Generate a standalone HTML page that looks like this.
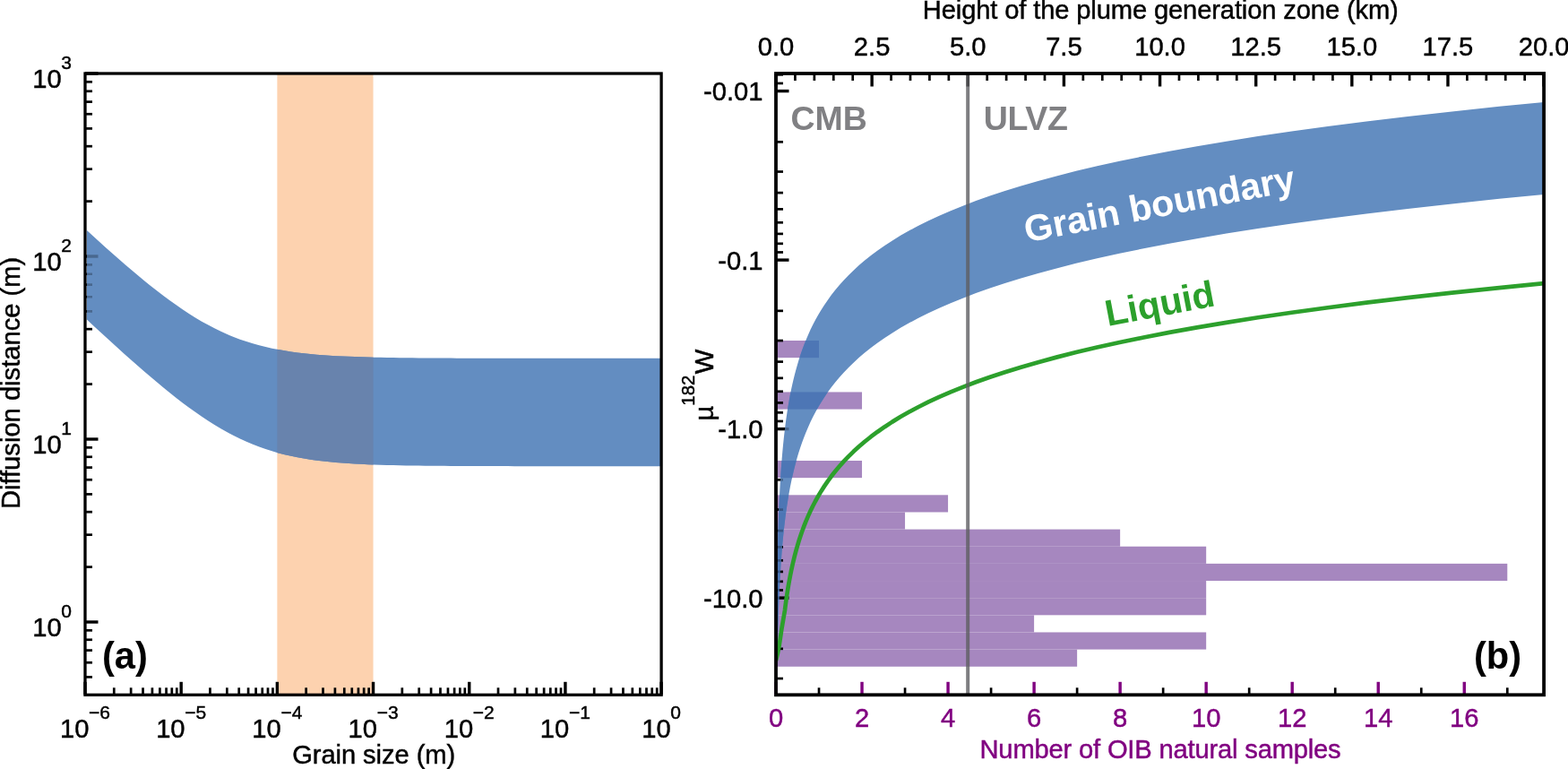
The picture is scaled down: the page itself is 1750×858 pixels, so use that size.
<!DOCTYPE html>
<html lang="en"><head><meta charset="utf-8"><title>Figure</title>
<style>html,body{margin:0;padding:0;background:#fff}body{width:1750px;height:858px;overflow:hidden}svg{display:block}</style>
</head><body>
<svg width="1750" height="858" viewBox="0 0 1750 858" font-family="'Liberation Sans', sans-serif" fill="#000">
<rect width="1750" height="858" fill="#fff"/>
<g id="panel-a">
<rect x="309.37" y="82.0" width="107.18" height="693.3" fill="#fdd2af"/>
<g stroke="#000" stroke-width="3.4">
<line x1="95" y1="775.3" x2="95" y2="760.8"/>
<line x1="202.18" y1="775.3" x2="202.18" y2="760.8"/>
<line x1="309.37" y1="775.3" x2="309.37" y2="760.8"/>
<line x1="416.55" y1="775.3" x2="416.55" y2="760.8"/>
<line x1="523.73" y1="775.3" x2="523.73" y2="760.8"/>
<line x1="630.92" y1="775.3" x2="630.92" y2="760.8"/>
<line x1="738.1" y1="775.3" x2="738.1" y2="760.8"/>
<line x1="95.0" y1="694" x2="109.5" y2="694"/>
<line x1="95.0" y1="490" x2="109.5" y2="490"/>
<line x1="95.0" y1="286" x2="109.5" y2="286"/>
<line x1="95.0" y1="82" x2="109.5" y2="82"/>
</g>
<g stroke="#000" stroke-width="2.7">
<line x1="127.27" y1="775.3" x2="127.27" y2="767.3"/>
<line x1="146.14" y1="775.3" x2="146.14" y2="767.3"/>
<line x1="159.53" y1="775.3" x2="159.53" y2="767.3"/>
<line x1="169.92" y1="775.3" x2="169.92" y2="767.3"/>
<line x1="178.4" y1="775.3" x2="178.4" y2="767.3"/>
<line x1="185.58" y1="775.3" x2="185.58" y2="767.3"/>
<line x1="191.8" y1="775.3" x2="191.8" y2="767.3"/>
<line x1="197.28" y1="775.3" x2="197.28" y2="767.3"/>
<line x1="234.45" y1="775.3" x2="234.45" y2="767.3"/>
<line x1="253.32" y1="775.3" x2="253.32" y2="767.3"/>
<line x1="266.71" y1="775.3" x2="266.71" y2="767.3"/>
<line x1="277.1" y1="775.3" x2="277.1" y2="767.3"/>
<line x1="285.59" y1="775.3" x2="285.59" y2="767.3"/>
<line x1="292.76" y1="775.3" x2="292.76" y2="767.3"/>
<line x1="298.98" y1="775.3" x2="298.98" y2="767.3"/>
<line x1="304.46" y1="775.3" x2="304.46" y2="767.3"/>
<line x1="341.63" y1="775.3" x2="341.63" y2="767.3"/>
<line x1="360.51" y1="775.3" x2="360.51" y2="767.3"/>
<line x1="373.9" y1="775.3" x2="373.9" y2="767.3"/>
<line x1="384.28" y1="775.3" x2="384.28" y2="767.3"/>
<line x1="392.77" y1="775.3" x2="392.77" y2="767.3"/>
<line x1="399.95" y1="775.3" x2="399.95" y2="767.3"/>
<line x1="406.16" y1="775.3" x2="406.16" y2="767.3"/>
<line x1="411.65" y1="775.3" x2="411.65" y2="767.3"/>
<line x1="448.82" y1="775.3" x2="448.82" y2="767.3"/>
<line x1="467.69" y1="775.3" x2="467.69" y2="767.3"/>
<line x1="481.08" y1="775.3" x2="481.08" y2="767.3"/>
<line x1="491.47" y1="775.3" x2="491.47" y2="767.3"/>
<line x1="499.95" y1="775.3" x2="499.95" y2="767.3"/>
<line x1="507.13" y1="775.3" x2="507.13" y2="767.3"/>
<line x1="513.35" y1="775.3" x2="513.35" y2="767.3"/>
<line x1="518.83" y1="775.3" x2="518.83" y2="767.3"/>
<line x1="556" y1="775.3" x2="556" y2="767.3"/>
<line x1="574.87" y1="775.3" x2="574.87" y2="767.3"/>
<line x1="588.26" y1="775.3" x2="588.26" y2="767.3"/>
<line x1="598.65" y1="775.3" x2="598.65" y2="767.3"/>
<line x1="607.14" y1="775.3" x2="607.14" y2="767.3"/>
<line x1="614.31" y1="775.3" x2="614.31" y2="767.3"/>
<line x1="620.53" y1="775.3" x2="620.53" y2="767.3"/>
<line x1="626.01" y1="775.3" x2="626.01" y2="767.3"/>
<line x1="663.18" y1="775.3" x2="663.18" y2="767.3"/>
<line x1="682.06" y1="775.3" x2="682.06" y2="767.3"/>
<line x1="695.45" y1="775.3" x2="695.45" y2="767.3"/>
<line x1="705.83" y1="775.3" x2="705.83" y2="767.3"/>
<line x1="714.32" y1="775.3" x2="714.32" y2="767.3"/>
<line x1="721.5" y1="775.3" x2="721.5" y2="767.3"/>
<line x1="727.71" y1="775.3" x2="727.71" y2="767.3"/>
<line x1="733.2" y1="775.3" x2="733.2" y2="767.3"/>
<line x1="95.0" y1="755.41" x2="103" y2="755.41"/>
<line x1="95.0" y1="739.26" x2="103" y2="739.26"/>
<line x1="95.0" y1="725.6" x2="103" y2="725.6"/>
<line x1="95.0" y1="713.77" x2="103" y2="713.77"/>
<line x1="95.0" y1="703.33" x2="103" y2="703.33"/>
<line x1="95.0" y1="632.59" x2="103" y2="632.59"/>
<line x1="95.0" y1="596.67" x2="103" y2="596.67"/>
<line x1="95.0" y1="571.18" x2="103" y2="571.18"/>
<line x1="95.0" y1="551.41" x2="103" y2="551.41"/>
<line x1="95.0" y1="535.26" x2="103" y2="535.26"/>
<line x1="95.0" y1="521.6" x2="103" y2="521.6"/>
<line x1="95.0" y1="509.77" x2="103" y2="509.77"/>
<line x1="95.0" y1="499.33" x2="103" y2="499.33"/>
<line x1="95.0" y1="428.59" x2="103" y2="428.59"/>
<line x1="95.0" y1="392.67" x2="103" y2="392.67"/>
<line x1="95.0" y1="367.18" x2="103" y2="367.18"/>
<line x1="95.0" y1="347.41" x2="103" y2="347.41"/>
<line x1="95.0" y1="331.26" x2="103" y2="331.26"/>
<line x1="95.0" y1="317.6" x2="103" y2="317.6"/>
<line x1="95.0" y1="305.77" x2="103" y2="305.77"/>
<line x1="95.0" y1="295.33" x2="103" y2="295.33"/>
<line x1="95.0" y1="224.59" x2="103" y2="224.59"/>
<line x1="95.0" y1="188.67" x2="103" y2="188.67"/>
<line x1="95.0" y1="163.18" x2="103" y2="163.18"/>
<line x1="95.0" y1="143.41" x2="103" y2="143.41"/>
<line x1="95.0" y1="127.26" x2="103" y2="127.26"/>
<line x1="95.0" y1="113.6" x2="103" y2="113.6"/>
<line x1="95.0" y1="101.77" x2="103" y2="101.77"/>
<line x1="95.0" y1="91.33" x2="103" y2="91.33"/>
</g>
<clipPath id="lb"><path d="M96.93,257.07 104.05,263.56 111.18,270 118.3,276.39 125.43,282.72 132.55,288.98 139.67,295.16 146.8,301.26 153.92,307.25 161.05,313.13 168.17,318.89 175.29,324.5 182.42,329.97 189.54,335.26 196.67,340.36 203.79,345.27 210.92,349.96 218.04,354.42 225.16,358.64 232.29,362.62 239.41,366.34 246.54,369.81 253.66,373.01 260.78,375.96 267.91,378.65 275.03,381.11 282.16,383.32 289.28,385.32 296.4,387.11 303.53,388.7 310.65,390.12 317.78,391.37 324.9,392.47 332.03,393.44 339.15,394.29 346.27,395.03 353.4,395.67 360.52,396.23 367.65,396.72 374.77,397.14 381.89,397.51 389.02,397.83 396.14,398.1 403.27,398.34 410.39,398.54 417.51,398.72 424.64,398.87 431.76,399 438.89,399.11 446.01,399.2 453.14,399.29 460.26,399.36 467.38,399.42 474.51,399.47 481.63,399.52 488.76,399.56 495.88,399.59 503,399.62 510.13,399.64 517.25,399.66 524.38,399.68 531.5,399.7 538.62,399.71 545.75,399.72 552.87,399.73 560,399.74 567.12,399.75 574.25,399.75 581.37,399.76 588.49,399.76 595.62,399.77 602.74,399.77 609.87,399.77 616.99,399.78 624.11,399.78 631.24,399.78 638.36,399.78 645.49,399.78 652.61,399.78 659.73,399.79 666.86,399.79 673.98,399.79 681.11,399.79 688.23,399.79 695.36,399.79 702.48,399.79 709.6,399.79 716.73,399.79 723.85,399.79 730.98,399.79 738.1,399.79 738.1,520.19 730.98,520.19 723.85,520.19 716.73,520.19 709.6,520.19 702.48,520.19 695.36,520.19 688.23,520.19 681.11,520.19 673.98,520.19 666.86,520.19 659.73,520.18 652.61,520.18 645.49,520.18 638.36,520.18 631.24,520.18 624.11,520.17 616.99,520.17 609.87,520.17 602.74,520.16 595.62,520.16 588.49,520.15 581.37,520.14 574.25,520.13 567.12,520.12 560,520.11 552.87,520.1 545.75,520.08 538.62,520.06 531.5,520.04 524.38,520.02 517.25,519.99 510.13,519.95 503,519.91 495.88,519.87 488.76,519.81 481.63,519.75 474.51,519.68 467.38,519.59 460.26,519.49 453.14,519.38 446.01,519.24 438.89,519.09 431.76,518.91 424.64,518.7 417.51,518.46 410.39,518.18 403.27,517.85 396.14,517.48 389.02,517.04 381.89,516.54 374.77,515.97 367.65,515.3 360.52,514.54 353.4,513.68 346.27,512.68 339.15,511.56 332.03,510.28 324.9,508.83 317.78,507.2 310.65,505.38 303.53,503.34 296.4,501.09 289.28,498.59 282.16,495.85 275.03,492.86 267.91,489.6 260.78,486.09 253.66,482.33 246.54,478.3 239.41,474.04 232.29,469.53 225.16,464.8 218.04,459.86 210.92,454.72 203.79,449.4 196.67,443.91 189.54,438.27 182.42,432.49 175.29,426.58 168.17,420.57 161.05,414.46 153.92,408.26 146.8,401.99 139.67,395.65 132.55,389.25 125.43,382.79 118.3,376.3 111.18,369.76 104.05,363.19 96.93,356.6Z"/></clipPath>
<path d="M96.93,257.07 104.05,263.56 111.18,270 118.3,276.39 125.43,282.72 132.55,288.98 139.67,295.16 146.8,301.26 153.92,307.25 161.05,313.13 168.17,318.89 175.29,324.5 182.42,329.97 189.54,335.26 196.67,340.36 203.79,345.27 210.92,349.96 218.04,354.42 225.16,358.64 232.29,362.62 239.41,366.34 246.54,369.81 253.66,373.01 260.78,375.96 267.91,378.65 275.03,381.11 282.16,383.32 289.28,385.32 296.4,387.11 303.53,388.7 310.65,390.12 317.78,391.37 324.9,392.47 332.03,393.44 339.15,394.29 346.27,395.03 353.4,395.67 360.52,396.23 367.65,396.72 374.77,397.14 381.89,397.51 389.02,397.83 396.14,398.1 403.27,398.34 410.39,398.54 417.51,398.72 424.64,398.87 431.76,399 438.89,399.11 446.01,399.2 453.14,399.29 460.26,399.36 467.38,399.42 474.51,399.47 481.63,399.52 488.76,399.56 495.88,399.59 503,399.62 510.13,399.64 517.25,399.66 524.38,399.68 531.5,399.7 538.62,399.71 545.75,399.72 552.87,399.73 560,399.74 567.12,399.75 574.25,399.75 581.37,399.76 588.49,399.76 595.62,399.77 602.74,399.77 609.87,399.77 616.99,399.78 624.11,399.78 631.24,399.78 638.36,399.78 645.49,399.78 652.61,399.78 659.73,399.79 666.86,399.79 673.98,399.79 681.11,399.79 688.23,399.79 695.36,399.79 702.48,399.79 709.6,399.79 716.73,399.79 723.85,399.79 730.98,399.79 738.1,399.79 738.1,520.19 730.98,520.19 723.85,520.19 716.73,520.19 709.6,520.19 702.48,520.19 695.36,520.19 688.23,520.19 681.11,520.19 673.98,520.19 666.86,520.19 659.73,520.18 652.61,520.18 645.49,520.18 638.36,520.18 631.24,520.18 624.11,520.17 616.99,520.17 609.87,520.17 602.74,520.16 595.62,520.16 588.49,520.15 581.37,520.14 574.25,520.13 567.12,520.12 560,520.11 552.87,520.1 545.75,520.08 538.62,520.06 531.5,520.04 524.38,520.02 517.25,519.99 510.13,519.95 503,519.91 495.88,519.87 488.76,519.81 481.63,519.75 474.51,519.68 467.38,519.59 460.26,519.49 453.14,519.38 446.01,519.24 438.89,519.09 431.76,518.91 424.64,518.7 417.51,518.46 410.39,518.18 403.27,517.85 396.14,517.48 389.02,517.04 381.89,516.54 374.77,515.97 367.65,515.3 360.52,514.54 353.4,513.68 346.27,512.68 339.15,511.56 332.03,510.28 324.9,508.83 317.78,507.2 310.65,505.38 303.53,503.34 296.4,501.09 289.28,498.59 282.16,495.85 275.03,492.86 267.91,489.6 260.78,486.09 253.66,482.33 246.54,478.3 239.41,474.04 232.29,469.53 225.16,464.8 218.04,459.86 210.92,454.72 203.79,449.4 196.67,443.91 189.54,438.27 182.42,432.49 175.29,426.58 168.17,420.57 161.05,414.46 153.92,408.26 146.8,401.99 139.67,395.65 132.55,389.25 125.43,382.79 118.3,376.3 111.18,369.76 104.05,363.19 96.93,356.6Z" fill="#638dc1"/>
<g clip-path="url(#lb)">
<rect x="309.37" y="82.0" width="107.18" height="693.3" fill="#6883ad"/>
<g stroke="#000" stroke-opacity="0.26">
<line x1="95.0" y1="286" x2="109.5" y2="286" stroke-width="3.4"/>
<line x1="95.0" y1="347.41" x2="103" y2="347.41" stroke-width="2.7"/>
<line x1="95.0" y1="331.26" x2="103" y2="331.26" stroke-width="2.7"/>
<line x1="95.0" y1="317.6" x2="103" y2="317.6" stroke-width="2.7"/>
<line x1="95.0" y1="305.77" x2="103" y2="305.77" stroke-width="2.7"/>
<line x1="95.0" y1="295.33" x2="103" y2="295.33" stroke-width="2.7"/>
</g></g>
<rect x="95.0" y="82.0" width="643.1" height="693.3" fill="none" stroke="#000" stroke-width="3.3"/>
<g font-size="29.17" text-anchor="middle" stroke="#000" stroke-width="0.45">
<text x="95" y="822.8">10<tspan font-size="21.0" dy="-20.4" dx="-0.3">−6</tspan></text>
<text x="202.18" y="822.8">10<tspan font-size="21.0" dy="-20.4" dx="-0.3">−5</tspan></text>
<text x="309.37" y="822.8">10<tspan font-size="21.0" dy="-20.4" dx="-0.3">−4</tspan></text>
<text x="416.55" y="822.8">10<tspan font-size="21.0" dy="-20.4" dx="-0.3">−3</tspan></text>
<text x="523.73" y="822.8">10<tspan font-size="21.0" dy="-20.4" dx="-0.3">−2</tspan></text>
<text x="630.92" y="822.8">10<tspan font-size="21.0" dy="-20.4" dx="-0.3">−1</tspan></text>
<text x="738.1" y="822.8">10<tspan font-size="21.0" dy="-20.4" dx="-0.3">0</tspan></text>
</g>
<g font-size="29.17" text-anchor="end" stroke="#000" stroke-width="0.45">
<text x="80" y="709.7">10<tspan font-size="21.0" dy="-20.4" dx="-0.3">0</tspan></text>
<text x="80" y="505.7">10<tspan font-size="21.0" dy="-20.4" dx="-0.3">1</tspan></text>
<text x="80" y="301.7">10<tspan font-size="21.0" dy="-20.4" dx="-0.3">2</tspan></text>
<text x="80" y="97.7">10<tspan font-size="21.0" dy="-20.4" dx="-0.3">3</tspan></text>
</g>
<text x="417.2" y="851.7" font-size="29.17" text-anchor="middle" stroke="#000" stroke-width="0.45" textLength="182" lengthAdjust="spacing">Grain size (m)</text>
<text transform="translate(21.8,427.4) rotate(-90)" font-size="29.17" text-anchor="middle" stroke="#000" stroke-width="0.45">Diffusion distance (m)</text>
<text x="113.9" y="745.7" font-size="41.67" font-weight="bold">(a)</text>
</g>
<g id="panel-b">
<g fill="#a687bf">
<rect x="866.0" y="380" width="48.02" height="19.145"/>
<rect x="866.0" y="437.44" width="96.03" height="19.145"/>
<rect x="866.0" y="514.01" width="96.03" height="19.145"/>
<rect x="866.0" y="552.31" width="192.07" height="19.145"/>
<rect x="866.0" y="571.45" width="144.05" height="19.145"/>
<rect x="866.0" y="590.6" width="384.13" height="19.145"/>
<rect x="866.0" y="609.74" width="480.17" height="19.145"/>
<rect x="866.0" y="628.88" width="816.29" height="19.145"/>
<rect x="866.0" y="648.03" width="480.17" height="19.145"/>
<rect x="866.0" y="667.17" width="480.17" height="19.145"/>
<rect x="866.0" y="686.32" width="288.1" height="19.145"/>
<rect x="866.0" y="705.46" width="480.17" height="19.145"/>
<rect x="866.0" y="724.61" width="336.12" height="19.145"/>
</g>
<g stroke="#000" stroke-width="3.4">
<line x1="866.0" y1="101.6" x2="880.5" y2="101.6"/>
<line x1="866.0" y1="290.1" x2="880.5" y2="290.1"/>
<line x1="866.0" y1="478.6" x2="880.5" y2="478.6"/>
<line x1="866.0" y1="667.1" x2="880.5" y2="667.1"/>
<line x1="866" y1="82.0" x2="866" y2="96.5"/>
<line x1="973.14" y1="82.0" x2="973.14" y2="96.5"/>
<line x1="1080.28" y1="82.0" x2="1080.28" y2="96.5"/>
<line x1="1187.41" y1="82.0" x2="1187.41" y2="96.5"/>
<line x1="1294.55" y1="82.0" x2="1294.55" y2="96.5"/>
<line x1="1401.69" y1="82.0" x2="1401.69" y2="96.5"/>
<line x1="1508.82" y1="82.0" x2="1508.82" y2="96.5"/>
<line x1="1615.96" y1="82.0" x2="1615.96" y2="96.5"/>
<line x1="1723.1" y1="82.0" x2="1723.1" y2="96.5"/>
</g>
<g stroke="#000" stroke-width="2.7">
<line x1="866.0" y1="83.33" x2="874" y2="83.33"/>
<line x1="866.0" y1="92.97" x2="874" y2="92.97"/>
<line x1="866.0" y1="158.34" x2="874" y2="158.34"/>
<line x1="866.0" y1="191.54" x2="874" y2="191.54"/>
<line x1="866.0" y1="215.09" x2="874" y2="215.09"/>
<line x1="866.0" y1="233.36" x2="874" y2="233.36"/>
<line x1="866.0" y1="248.28" x2="874" y2="248.28"/>
<line x1="866.0" y1="260.9" x2="874" y2="260.9"/>
<line x1="866.0" y1="271.83" x2="874" y2="271.83"/>
<line x1="866.0" y1="281.47" x2="874" y2="281.47"/>
<line x1="866.0" y1="346.84" x2="874" y2="346.84"/>
<line x1="866.0" y1="380.04" x2="874" y2="380.04"/>
<line x1="866.0" y1="403.59" x2="874" y2="403.59"/>
<line x1="866.0" y1="421.86" x2="874" y2="421.86"/>
<line x1="866.0" y1="436.78" x2="874" y2="436.78"/>
<line x1="866.0" y1="449.4" x2="874" y2="449.4"/>
<line x1="866.0" y1="460.33" x2="874" y2="460.33"/>
<line x1="866.0" y1="469.97" x2="874" y2="469.97"/>
<line x1="866.0" y1="535.34" x2="874" y2="535.34"/>
<line x1="866.0" y1="568.54" x2="874" y2="568.54"/>
<line x1="866.0" y1="592.09" x2="874" y2="592.09"/>
<line x1="866.0" y1="610.36" x2="874" y2="610.36"/>
<line x1="866.0" y1="625.28" x2="874" y2="625.28"/>
<line x1="866.0" y1="637.9" x2="874" y2="637.9"/>
<line x1="866.0" y1="648.83" x2="874" y2="648.83"/>
<line x1="866.0" y1="658.47" x2="874" y2="658.47"/>
<line x1="866.0" y1="723.84" x2="874" y2="723.84"/>
<line x1="866.0" y1="757.04" x2="874" y2="757.04"/>
<line x1="914.02" y1="775.3" x2="914.02" y2="767.3"/>
<line x1="1010.05" y1="775.3" x2="1010.05" y2="767.3"/>
<line x1="1106.08" y1="775.3" x2="1106.08" y2="767.3"/>
<line x1="1202.12" y1="775.3" x2="1202.12" y2="767.3"/>
<line x1="1298.15" y1="775.3" x2="1298.15" y2="767.3"/>
<line x1="1394.18" y1="775.3" x2="1394.18" y2="767.3"/>
<line x1="1490.22" y1="775.3" x2="1490.22" y2="767.3"/>
<line x1="1586.25" y1="775.3" x2="1586.25" y2="767.3"/>
<line x1="1682.29" y1="775.3" x2="1682.29" y2="767.3"/>
<line x1="887.43" y1="82.0" x2="887.43" y2="90"/>
<line x1="908.86" y1="82.0" x2="908.86" y2="90"/>
<line x1="930.28" y1="82.0" x2="930.28" y2="90"/>
<line x1="951.71" y1="82.0" x2="951.71" y2="90"/>
<line x1="994.57" y1="82.0" x2="994.57" y2="90"/>
<line x1="1015.99" y1="82.0" x2="1015.99" y2="90"/>
<line x1="1037.42" y1="82.0" x2="1037.42" y2="90"/>
<line x1="1058.85" y1="82.0" x2="1058.85" y2="90"/>
<line x1="1101.7" y1="82.0" x2="1101.7" y2="90"/>
<line x1="1123.13" y1="82.0" x2="1123.13" y2="90"/>
<line x1="1144.56" y1="82.0" x2="1144.56" y2="90"/>
<line x1="1165.98" y1="82.0" x2="1165.98" y2="90"/>
<line x1="1208.84" y1="82.0" x2="1208.84" y2="90"/>
<line x1="1230.27" y1="82.0" x2="1230.27" y2="90"/>
<line x1="1251.69" y1="82.0" x2="1251.69" y2="90"/>
<line x1="1273.12" y1="82.0" x2="1273.12" y2="90"/>
<line x1="1315.98" y1="82.0" x2="1315.98" y2="90"/>
<line x1="1337.4" y1="82.0" x2="1337.4" y2="90"/>
<line x1="1358.83" y1="82.0" x2="1358.83" y2="90"/>
<line x1="1380.26" y1="82.0" x2="1380.26" y2="90"/>
<line x1="1423.12" y1="82.0" x2="1423.12" y2="90"/>
<line x1="1444.54" y1="82.0" x2="1444.54" y2="90"/>
<line x1="1465.97" y1="82.0" x2="1465.97" y2="90"/>
<line x1="1487.4" y1="82.0" x2="1487.4" y2="90"/>
<line x1="1530.25" y1="82.0" x2="1530.25" y2="90"/>
<line x1="1551.68" y1="82.0" x2="1551.68" y2="90"/>
<line x1="1573.11" y1="82.0" x2="1573.11" y2="90"/>
<line x1="1594.53" y1="82.0" x2="1594.53" y2="90"/>
<line x1="1637.39" y1="82.0" x2="1637.39" y2="90"/>
<line x1="1658.82" y1="82.0" x2="1658.82" y2="90"/>
<line x1="1680.24" y1="82.0" x2="1680.24" y2="90"/>
<line x1="1701.67" y1="82.0" x2="1701.67" y2="90"/>
</g>
<g stroke="#800080" stroke-width="3.4">
<line x1="866" y1="775.3" x2="866" y2="760.8"/>
<line x1="962.03" y1="775.3" x2="962.03" y2="760.8"/>
<line x1="1058.07" y1="775.3" x2="1058.07" y2="760.8"/>
<line x1="1154.1" y1="775.3" x2="1154.1" y2="760.8"/>
<line x1="1250.13" y1="775.3" x2="1250.13" y2="760.8"/>
<line x1="1346.17" y1="775.3" x2="1346.17" y2="760.8"/>
<line x1="1442.2" y1="775.3" x2="1442.2" y2="760.8"/>
<line x1="1538.24" y1="775.3" x2="1538.24" y2="760.8"/>
<line x1="1634.27" y1="775.3" x2="1634.27" y2="760.8"/>
</g>
<clipPath id="rc"><rect x="866.0" y="82.0" width="857.1" height="693.3"/></clipPath>
<g clip-path="url(#rc)">
<clipPath id="rb"><path d="M866.17,811.22 866.18,805.68 866.2,800.14 866.21,794.6 866.22,789.06 866.24,783.52 866.26,777.98 866.28,772.45 866.29,766.91 866.32,761.37 866.34,755.83 866.36,750.29 866.39,744.75 866.41,739.21 866.44,733.67 866.47,728.13 866.51,722.6 866.54,717.06 866.58,711.52 866.62,705.98 866.66,700.44 866.71,694.9 866.76,689.36 866.81,683.82 866.87,678.29 866.93,672.75 867,667.21 867.07,661.67 867.14,656.13 867.22,650.59 867.3,645.05 867.4,639.51 867.49,633.97 867.6,628.44 867.71,622.9 867.83,617.36 867.96,611.82 868.1,606.28 868.24,600.74 868.4,595.2 868.57,589.66 868.75,584.13 868.94,578.59 869.14,573.05 869.36,567.51 869.6,561.97 869.85,556.43 870.12,550.89 870.41,545.35 870.72,539.81 871.05,534.28 871.4,528.74 871.78,523.2 872.19,517.66 872.62,512.12 873.08,506.58 873.58,501.04 874.11,495.5 874.68,489.96 875.28,484.43 875.93,478.89 876.63,473.35 877.37,467.81 878.17,462.27 879.02,456.73 879.93,451.19 880.91,445.65 881.95,440.12 883.07,434.58 884.26,429.04 885.54,423.5 886.91,417.96 888.37,412.42 889.94,406.88 891.61,401.34 893.41,395.8 895.32,390.27 897.38,384.73 899.57,379.19 901.92,373.65 904.44,368.11 907.13,362.57 910.01,357.03 913.09,351.49 916.38,345.95 919.91,340.42 923.69,334.88 927.72,329.34 932.04,323.8 936.67,318.26 941.61,312.72 946.91,307.18 952.57,301.64 958.63,296.11 965.11,290.57 972.05,285.03 979.48,279.49 987.42,273.95 995.92,268.41 1005.01,262.87 1014.74,257.33 1025.16,251.79 1036.3,246.26 1048.22,240.72 1060.97,235.18 1074.62,229.64 1089.22,224.1 1104.85,218.56 1121.57,213.02 1139.46,207.48 1158.6,201.94 1179.08,196.41 1201,190.87 1224.45,185.33 1249.54,179.79 1276.39,174.25 1305.12,168.71 1335.85,163.17 1368.74,157.63 1403.94,152.1 1441.59,146.56 1481.88,141.02 1525,135.48 1571.13,129.94 1620.48,124.4 1673.3,118.86 1723.1,113.96 1723.1,216.95 1673.3,221.85 1620.48,227.39 1571.13,232.93 1525,238.47 1481.88,244.01 1441.59,249.54 1403.94,255.08 1368.74,260.62 1335.85,266.16 1305.12,271.7 1276.39,277.24 1249.54,282.78 1224.45,288.32 1201,293.86 1179.08,299.39 1158.6,304.93 1139.46,310.47 1121.57,316.01 1104.85,321.55 1089.22,327.09 1074.62,332.63 1060.97,338.17 1048.22,343.7 1036.3,349.24 1025.16,354.78 1014.74,360.32 1005.01,365.86 995.92,371.4 987.42,376.94 979.48,382.48 972.05,388.02 965.11,393.55 958.63,399.09 952.57,404.63 946.91,410.17 941.61,415.71 936.67,421.25 932.04,426.79 927.72,432.33 923.69,437.87 919.91,443.4 916.38,448.94 913.09,454.48 910.01,460.02 907.13,465.56 904.44,471.1 901.92,476.64 899.57,482.18 897.38,487.71 895.32,493.25 893.41,498.79 891.61,504.33 889.94,509.87 888.37,515.41 886.91,520.95 885.54,526.49 884.26,532.03 883.07,537.56 881.95,543.1 880.91,548.64 879.93,554.18 879.02,559.72 878.17,565.26 877.37,570.8 876.63,576.34 875.93,581.88 875.28,587.41 874.68,592.95 874.11,598.49 873.58,604.03 873.08,609.57 872.62,615.11 872.19,620.65 871.78,626.19 871.4,631.72 871.05,637.26 870.72,642.8 870.41,648.34 870.12,653.88 869.85,659.42 869.6,664.96 869.36,670.5 869.14,676.04 868.94,681.57 868.75,687.11 868.57,692.65 868.4,698.19 868.24,703.73 868.1,709.27 867.96,714.81 867.83,720.35 867.71,725.89 867.6,731.42 867.49,736.96 867.4,742.5 867.3,748.04 867.22,753.58 867.14,759.12 867.07,764.66 867,770.2 866.93,775.73 866.87,781.27 866.81,786.81 866.76,792.35 866.71,797.89 866.66,803.43 866.62,808.97 866.58,814.51 866.54,820.05 866.51,825.58 866.47,831.12 866.44,836.66 866.41,842.2 866.39,847.74 866.36,853.28 866.34,858.82 866.32,864.36 866.29,869.89 866.28,875.43 866.26,880.97 866.24,886.51 866.22,892.05 866.21,897.59 866.2,903.13 866.18,908.67 866.17,914.21Z"/></clipPath>
<path d="M866.17,811.22 866.18,805.68 866.2,800.14 866.21,794.6 866.22,789.06 866.24,783.52 866.26,777.98 866.28,772.45 866.29,766.91 866.32,761.37 866.34,755.83 866.36,750.29 866.39,744.75 866.41,739.21 866.44,733.67 866.47,728.13 866.51,722.6 866.54,717.06 866.58,711.52 866.62,705.98 866.66,700.44 866.71,694.9 866.76,689.36 866.81,683.82 866.87,678.29 866.93,672.75 867,667.21 867.07,661.67 867.14,656.13 867.22,650.59 867.3,645.05 867.4,639.51 867.49,633.97 867.6,628.44 867.71,622.9 867.83,617.36 867.96,611.82 868.1,606.28 868.24,600.74 868.4,595.2 868.57,589.66 868.75,584.13 868.94,578.59 869.14,573.05 869.36,567.51 869.6,561.97 869.85,556.43 870.12,550.89 870.41,545.35 870.72,539.81 871.05,534.28 871.4,528.74 871.78,523.2 872.19,517.66 872.62,512.12 873.08,506.58 873.58,501.04 874.11,495.5 874.68,489.96 875.28,484.43 875.93,478.89 876.63,473.35 877.37,467.81 878.17,462.27 879.02,456.73 879.93,451.19 880.91,445.65 881.95,440.12 883.07,434.58 884.26,429.04 885.54,423.5 886.91,417.96 888.37,412.42 889.94,406.88 891.61,401.34 893.41,395.8 895.32,390.27 897.38,384.73 899.57,379.19 901.92,373.65 904.44,368.11 907.13,362.57 910.01,357.03 913.09,351.49 916.38,345.95 919.91,340.42 923.69,334.88 927.72,329.34 932.04,323.8 936.67,318.26 941.61,312.72 946.91,307.18 952.57,301.64 958.63,296.11 965.11,290.57 972.05,285.03 979.48,279.49 987.42,273.95 995.92,268.41 1005.01,262.87 1014.74,257.33 1025.16,251.79 1036.3,246.26 1048.22,240.72 1060.97,235.18 1074.62,229.64 1089.22,224.1 1104.85,218.56 1121.57,213.02 1139.46,207.48 1158.6,201.94 1179.08,196.41 1201,190.87 1224.45,185.33 1249.54,179.79 1276.39,174.25 1305.12,168.71 1335.85,163.17 1368.74,157.63 1403.94,152.1 1441.59,146.56 1481.88,141.02 1525,135.48 1571.13,129.94 1620.48,124.4 1673.3,118.86 1723.1,113.96 1723.1,216.95 1673.3,221.85 1620.48,227.39 1571.13,232.93 1525,238.47 1481.88,244.01 1441.59,249.54 1403.94,255.08 1368.74,260.62 1335.85,266.16 1305.12,271.7 1276.39,277.24 1249.54,282.78 1224.45,288.32 1201,293.86 1179.08,299.39 1158.6,304.93 1139.46,310.47 1121.57,316.01 1104.85,321.55 1089.22,327.09 1074.62,332.63 1060.97,338.17 1048.22,343.7 1036.3,349.24 1025.16,354.78 1014.74,360.32 1005.01,365.86 995.92,371.4 987.42,376.94 979.48,382.48 972.05,388.02 965.11,393.55 958.63,399.09 952.57,404.63 946.91,410.17 941.61,415.71 936.67,421.25 932.04,426.79 927.72,432.33 923.69,437.87 919.91,443.4 916.38,448.94 913.09,454.48 910.01,460.02 907.13,465.56 904.44,471.1 901.92,476.64 899.57,482.18 897.38,487.71 895.32,493.25 893.41,498.79 891.61,504.33 889.94,509.87 888.37,515.41 886.91,520.95 885.54,526.49 884.26,532.03 883.07,537.56 881.95,543.1 880.91,548.64 879.93,554.18 879.02,559.72 878.17,565.26 877.37,570.8 876.63,576.34 875.93,581.88 875.28,587.41 874.68,592.95 874.11,598.49 873.58,604.03 873.08,609.57 872.62,615.11 872.19,620.65 871.78,626.19 871.4,631.72 871.05,637.26 870.72,642.8 870.41,648.34 870.12,653.88 869.85,659.42 869.6,664.96 869.36,670.5 869.14,676.04 868.94,681.57 868.75,687.11 868.57,692.65 868.4,698.19 868.24,703.73 868.1,709.27 867.96,714.81 867.83,720.35 867.71,725.89 867.6,731.42 867.49,736.96 867.4,742.5 867.3,748.04 867.22,753.58 867.14,759.12 867.07,764.66 867,770.2 866.93,775.73 866.87,781.27 866.81,786.81 866.76,792.35 866.71,797.89 866.66,803.43 866.62,808.97 866.58,814.51 866.54,820.05 866.51,825.58 866.47,831.12 866.44,836.66 866.41,842.2 866.39,847.74 866.36,853.28 866.34,858.82 866.32,864.36 866.29,869.89 866.28,875.43 866.26,880.97 866.24,886.51 866.22,892.05 866.21,897.59 866.2,903.13 866.18,908.67 866.17,914.21Z" fill="#638dc1"/>
<g clip-path="url(#rb)">
<g fill="#4d76b5">
<rect x="866.0" y="380" width="48.02" height="19.145"/>
<rect x="866.0" y="437.44" width="96.03" height="19.145"/>
<rect x="866.0" y="514.01" width="96.03" height="19.145"/>
<rect x="866.0" y="552.31" width="192.07" height="19.145"/>
<rect x="866.0" y="571.45" width="144.05" height="19.145"/>
<rect x="866.0" y="590.6" width="384.13" height="19.145"/>
<rect x="866.0" y="609.74" width="480.17" height="19.145"/>
<rect x="866.0" y="628.88" width="816.29" height="19.145"/>
<rect x="866.0" y="648.03" width="480.17" height="19.145"/>
<rect x="866.0" y="667.17" width="480.17" height="19.145"/>
<rect x="866.0" y="686.32" width="288.1" height="19.145"/>
<rect x="866.0" y="705.46" width="480.17" height="19.145"/>
<rect x="866.0" y="724.61" width="336.12" height="19.145"/>
</g>
<g stroke="#000" stroke-opacity="0.26">
<line x1="866.0" y1="290.1" x2="880.5" y2="290.1" stroke-width="3.4"/>
<line x1="866.0" y1="478.6" x2="880.5" y2="478.6" stroke-width="3.4"/>
<line x1="866.0" y1="667.1" x2="880.5" y2="667.1" stroke-width="3.4"/>
<line x1="866.0" y1="346.84" x2="874" y2="346.84" stroke-width="2.7"/>
<line x1="866.0" y1="380.04" x2="874" y2="380.04" stroke-width="2.7"/>
<line x1="866.0" y1="403.59" x2="874" y2="403.59" stroke-width="2.7"/>
<line x1="866.0" y1="421.86" x2="874" y2="421.86" stroke-width="2.7"/>
<line x1="866.0" y1="436.78" x2="874" y2="436.78" stroke-width="2.7"/>
<line x1="866.0" y1="449.4" x2="874" y2="449.4" stroke-width="2.7"/>
<line x1="866.0" y1="460.33" x2="874" y2="460.33" stroke-width="2.7"/>
<line x1="866.0" y1="469.97" x2="874" y2="469.97" stroke-width="2.7"/>
<line x1="866.0" y1="535.34" x2="874" y2="535.34" stroke-width="2.7"/>
<line x1="866.0" y1="568.54" x2="874" y2="568.54" stroke-width="2.7"/>
<line x1="866.0" y1="592.09" x2="874" y2="592.09" stroke-width="2.7"/>
<line x1="866.0" y1="610.36" x2="874" y2="610.36" stroke-width="2.7"/>
<line x1="866.0" y1="625.28" x2="874" y2="625.28" stroke-width="2.7"/>
<line x1="866.0" y1="637.9" x2="874" y2="637.9" stroke-width="2.7"/>
<line x1="866.0" y1="648.83" x2="874" y2="648.83" stroke-width="2.7"/>
<line x1="866.0" y1="658.47" x2="874" y2="658.47" stroke-width="2.7"/>
<line x1="866.0" y1="723.84" x2="874" y2="723.84" stroke-width="2.7"/>
<line x1="866.0" y1="757.04" x2="874" y2="757.04" stroke-width="2.7"/>
</g></g>
<polyline points="866,737 867.8,729.5 869.7,720 872.5,701 875.93,681.1 876.63,675.56 877.37,670.02 878.17,664.48 879.02,658.94 879.93,653.4 880.91,647.86 881.95,642.32 883.07,636.78 884.26,631.25 885.54,625.71 886.91,620.17 888.37,614.63 889.94,609.09 891.61,603.55 893.41,598.01 895.32,592.47 897.38,586.94 899.57,581.4 901.92,575.86 904.44,570.32 907.13,564.78 910.01,559.24 913.09,553.7 916.38,548.16 919.91,542.62 923.69,537.09 927.72,531.55 932.04,526.01 936.67,520.47 941.61,514.93 946.91,509.39 952.57,503.85 958.63,498.31 965.11,492.77 972.05,487.24 979.48,481.7 987.42,476.16 995.92,470.62 1005.01,465.08 1014.74,459.54 1025.16,454 1036.3,448.46 1048.22,442.93 1060.97,437.39 1074.62,431.85 1089.22,426.31 1104.85,420.77 1121.57,415.23 1139.46,409.69 1158.6,404.15 1179.08,398.61 1201,393.08 1224.45,387.54 1249.54,382 1276.39,376.46 1305.12,370.92 1335.85,365.38 1368.74,359.84 1403.94,354.3 1441.59,348.76 1481.88,343.23 1525,337.69 1571.13,332.15 1620.48,326.61 1673.3,321.07 1723.1,316.17" fill="none" stroke="#2ca02c" stroke-width="4.7" stroke-linejoin="round"/>
<line x1="1080.18" y1="82.0" x2="1080.18" y2="775.3" stroke="#5e5e62" stroke-opacity="0.8" stroke-width="4"/>
</g>
<rect x="866.0" y="82.0" width="857.1" height="693.3" fill="none" stroke="#000" stroke-width="3.8"/>
<g font-size="29.17" text-anchor="middle" stroke="#000" stroke-width="0.45">
<text x="866" y="61.7">0.0</text>
<text x="973.14" y="61.7">2.5</text>
<text x="1080.28" y="61.7">5.0</text>
<text x="1187.41" y="61.7">7.5</text>
<text x="1294.55" y="61.7">10.0</text>
<text x="1401.69" y="61.7">12.5</text>
<text x="1508.82" y="61.7">15.0</text>
<text x="1615.96" y="61.7">17.5</text>
<text x="1723.1" y="61.7">20.0</text>
<text x="1295.3" y="20.5" textLength="531" lengthAdjust="spacing">Height of the plume generation zone (km)</text>
</g>
<g font-size="29.17" text-anchor="middle" fill="#800080" stroke="#800080" stroke-width="0.45">
<text x="866" y="810.5">0</text>
<text x="962.03" y="810.5">2</text>
<text x="1058.07" y="810.5">4</text>
<text x="1154.1" y="810.5">6</text>
<text x="1250.13" y="810.5">8</text>
<text x="1346.17" y="810.5">10</text>
<text x="1442.2" y="810.5">12</text>
<text x="1538.24" y="810.5">14</text>
<text x="1634.27" y="810.5">16</text>
<text x="1295.1" y="845.6" textLength="403.2" lengthAdjust="spacing">Number of OIB natural samples</text>
</g>
<g font-size="29.17" text-anchor="end" stroke="#000" stroke-width="0.45">
<text x="851.5" y="112.1">-0.01</text>
<text x="851.5" y="300.6">-0.1</text>
<text x="851.5" y="489.1">-1.0</text>
<text x="851.5" y="677.6">-10.0</text>
</g>
<text transform="translate(795.5,467.9) rotate(-90)" font-size="29.17" stroke="#000" stroke-width="0.45"><tspan x="-1.6">µ</tspan><tspan x="15.2" dy="-20.4" font-size="20.4">182</tspan><tspan x="50.7" dy="20.4">W</tspan></text>
<g font-size="37.5" font-weight="bold" fill="#808083">
<text x="882.5" y="144.5">CMB</text>
<text x="1097.8" y="144.5" textLength="94" lengthAdjust="spacing">ULVZ</text>
</g>
<text transform="translate(1296.6,241.4) rotate(-10.9)" font-size="41.2" font-weight="bold" fill="#fff" text-anchor="middle">Grain boundary</text>
<text transform="translate(1296.9,352.5) rotate(-10.8)" font-size="41.2" font-weight="bold" fill="#2ca02c" text-anchor="middle">Liquid</text>
<text x="1645" y="745.7" font-size="41.67" font-weight="bold">(b)</text>
</g>
</svg>
</body></html>
